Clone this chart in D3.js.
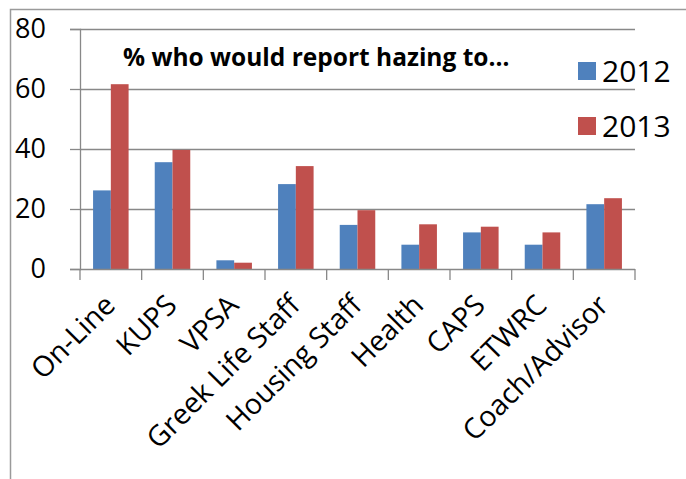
<!DOCTYPE html>
<html>
<head>
<meta charset="utf-8">
<script src="https://cdn.jsdelivr.net/npm/d3@7"></script>
<style>
  body { margin: 0; background: #fff; }
  text { font-family: "Open Sans", sans-serif; fill: #000; }
</style>
</head>
<body>
<div id="chart"></div>
<script>
(function () {

  // data
  var categories = ["On-Line", "KUPS", "VPSA", "Greek Life Staff", "Housing Staff", "Health", "CAPS", "ETWRC", "Coach/Advisor"],
    values2012 = [26.2, 35.6, 2.9, 28.3, 14.7, 8.1, 12.2, 8.1, 21.6],
    values2013 = [61.6, 39.7, 2.1, 34.3, 19.6, 14.9, 14.1, 12.2, 23.6],
    seriesNames = ["2012", "2013"],
    yTicks = [0, 20, 40, 60, 80],
    title = "% who would report hazing to…",
    // office 2007 palette
    colors = d3.scaleOrdinal(seriesNames, ["#4F81BD", "#C0504D"]),
    gridColor = "#888888",
    w = 686,
    h = 479,
    plot = { left: 80, right: 635, top: 29, bottom: 269 };

  var rows = categories.map(function (c, i) {
    return { cat: c, vals: [values2012[i], values2013[i]] };
  });

  var svg = d3.select("#chart")
    .append("svg")
    .attr("width", w)
    .attr("height", h);

  svg.append("rect").attr("width", w).attr("height", h).attr("fill", "#fff");

  // outer frame (only top and left visible in the crop)
  svg.append("path")
    .attr("d", "M10.5,479V9.5H686")
    .attr("fill", "none")
    .attr("stroke", "#9a9a9a")
    .attr("stroke-width", 1.5);

  var x = d3.scaleBand()
    .domain(categories)
    .range([plot.left, plot.right])
    .paddingInner(0)
    .paddingOuter(0);

  var barW = x.bandwidth() * 0.288;

  var y = d3.scaleLinear()
    .domain([0, 80])
    .range([plot.bottom, plot.top]);

  // gridlines
  svg.append("g")
    .selectAll("line")
    .data(yTicks.slice(1))
    .enter().append("line")
      .attr("x1", plot.left)
      .attr("x2", plot.right)
      .attr("y1", function (d) { return Math.round(y(d)) + 0.5; })
      .attr("y2", function (d) { return Math.round(y(d)) + 0.5; })
      .attr("stroke", gridColor)
      .attr("stroke-width", 1.3);

  // bars
  svg.append("g")
    .selectAll("g")
    .data(rows)
    .enter().append("g")
      .selectAll("rect")
      .data(function (d) {
        return d.vals.map(function (v, j) { return { cat: d.cat, v: v, s: seriesNames[j], j: j }; });
      })
      .enter().append("rect")
        .attr("x", function (d) { return x(d.cat) + x.bandwidth() / 2 - barW + d.j * barW; })
        .attr("width", barW)
        .attr("y", function (d) { return y(d.v); })
        .attr("height", function (d) { return y(0) - y(d.v); })
        .attr("fill", function (d) { return colors(d.s); });

  // y axis
  var yAxis = svg.append("g")
    .attr("transform", "translate(" + plot.left + ",0)")
    .call(d3.axisLeft(y).tickValues(yTicks).tickSize(10).tickPadding(24));
  yAxis.select(".domain").attr("stroke", gridColor).attr("stroke-width", 1.3);
  yAxis.selectAll(".tick line").attr("stroke", gridColor).attr("stroke-width", 1.3);
  yAxis.selectAll("text")
    .style("font-size", "27px")
    .style("font-family", "'Open Sans', sans-serif")
    .attr("fill", "#000");

  // x axis: ticks at category boundaries
  var xAxisG = svg.append("g");
  xAxisG.append("line")
    .attr("x1", plot.left).attr("x2", plot.right)
    .attr("y1", y(0) + 0.5).attr("y2", y(0) + 0.5)
    .attr("stroke", gridColor).attr("stroke-width", 1.3);
  xAxisG.selectAll("line.tick")
    .data(categories.concat(["end"]))
    .enter().append("line")
      .attr("class", "tick")
      .attr("x1", function (d, i) { return i < categories.length ? x(d) : plot.right; })
      .attr("x2", function (d, i) { return i < categories.length ? x(d) : plot.right; })
      .attr("y1", y(0))
      .attr("y2", y(0) + 11)
      .attr("stroke", gridColor).attr("stroke-width", 1.3);

  xAxisG.selectAll("text")
    .data(categories)
    .enter().append("text")
      .attr("transform", function (d) {
        return "translate(" + (x(d) + x.bandwidth() / 2 + 6) + "," + (y(0) + 38) + ") rotate(-45)";
      })
      .attr("text-anchor", "end")
      .style("font-size", "28.5px")
      .text(function (d) { return d; });

  // title
  svg.append("text")
    .attr("x", 123)
    .attr("y", 66)
    .style("font-size", "24.5px")
    .style("font-weight", "bold")
    .text(title);

  // legend
  var legend = svg.append("g")
    .selectAll("g")
    .data(seriesNames)
    .enter().append("g")
      .attr("transform", function (d, i) { return "translate(578," + (62 + i * 55) + ")"; });
  legend.append("rect")
    .attr("width", 18)
    .attr("height", 18)
    .attr("fill", function (d) { return colors(d); });
  legend.append("text")
    .attr("x", 24)
    .attr("y", 19.5)
    .style("font-size", "30px")
    .text(function (d) { return d; });

})();
</script>
</body>
</html>
